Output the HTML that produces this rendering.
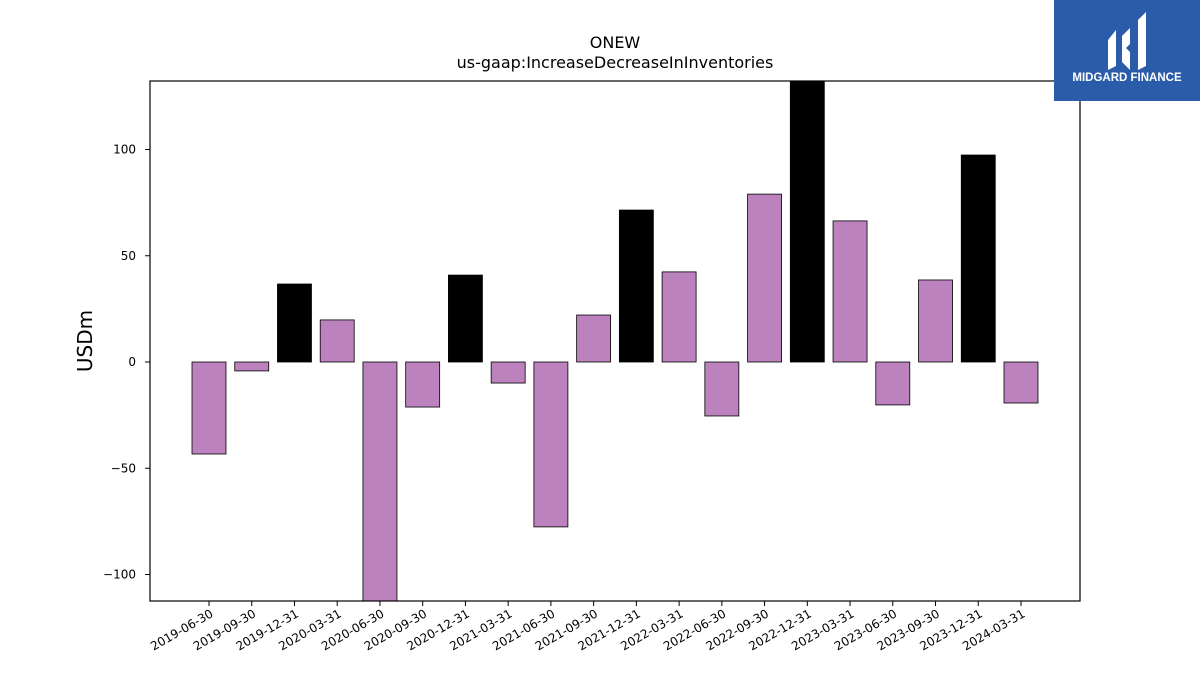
<!DOCTYPE html>
<html><head><meta charset="utf-8"><style>
body{margin:0;background:#fff;width:1200px;height:675px;overflow:hidden;font-family:"Liberation Sans","DejaVu Sans",sans-serif}
</style></head><body>
<svg id="chart" width="1200" height="675" xmlns="http://www.w3.org/2000/svg" font-family="DejaVu Sans, Liberation Sans, sans-serif">
<text x="615" y="48" text-anchor="middle" font-size="16">ONEW</text>
<text x="615" y="68" text-anchor="middle" font-size="16">us-gaap:IncreaseDecreaseInInventories</text>
<text transform="translate(92,341) rotate(-90)" text-anchor="middle" font-size="20">USDm</text>
<defs><clipPath id="pc"><rect x="150" y="81" width="930" height="520"/></clipPath></defs>
<g id="bars" clip-path="url(#pc)"></g>
<g id="axes"></g>
<rect x="150" y="81" width="930" height="520" fill="none" stroke="#000" stroke-width="1.2"/>
<g>
<rect x="1054" y="0" width="146" height="101" fill="#2a5caa"/>
<path d="M1108 40 L1116 30 L1116 66 L1108 70 Z M1122 36 L1130 28 L1130 44 L1126 48 L1130 52 L1130 70 L1122 62 Z M1138 20 L1146 12 L1146 66 L1138 70 Z" fill="#fff"/>
<text x="1127" y="81" text-anchor="middle" font-size="11.5" font-weight="bold" fill="#fff" font-family="Liberation Sans, sans-serif">MIDGARD FINANCE</text>
</g>
</svg>
<script>
const categories=["2019-06-30","2019-09-30","2019-12-31","2020-03-31","2020-06-30","2020-09-30","2020-12-31","2021-03-31","2021-06-30","2021-09-30","2021-12-31","2022-03-31","2022-06-30","2022-09-30","2022-12-31","2023-03-31","2023-06-30","2023-09-30","2023-12-31","2024-03-31"];
const values=[-43.3,-4.2,36.7,19.8,-118,-21.2,40.9,-9.9,-77.6,22.1,71.5,42.4,-25.4,79,140,66.4,-20.2,38.6,97.4,-19.3];
const yTicks=[-100,-50,0,50,100];
const yTickLabels=["\u2212100","\u221250","0","50","100"];
const NS="http://www.w3.org/2000/svg";
const y=v=>362-v*2.125;
const x=i=>209+i*42.737;
const bars=document.getElementById('bars'),axes=document.getElementById('axes');
function mk(t,a,p){const e=document.createElementNS(NS,t);for(const k in a)e.setAttribute(k,a[k]);p.appendChild(e);return e;}
values.forEach((v,i)=>{
 const r=mk('rect',{x:x(i)-17,y:Math.min(y(v),y(0)),width:34,height:Math.abs(y(v)-y(0)),fill:categories[i].endsWith('12-31')?'#000':'#bc82bd',stroke:'#000','stroke-width':0.8},bars);
 
 
 const t=mk('line',{x1:x(i),x2:x(i),y1:601,y2:606,stroke:'#000'},axes);
 
 
 const l=mk('text',{transform:`translate(${x(i)+5},${616}) rotate(-30)`,'text-anchor':'end','font-size':12},axes);
 l.textContent=categories[i];
 
 
});
yTicks.forEach((v,i)=>{
 const t=mk('line',{x1:145,x2:150,y1:y(v),y2:y(v),stroke:'#000'},axes);
 
 
 const l=mk('text',{x:136,y:y(v)+4,'text-anchor':'end','font-size':12},axes);
 l.textContent=yTickLabels[i];
 
 
});
</script>
</body></html>
